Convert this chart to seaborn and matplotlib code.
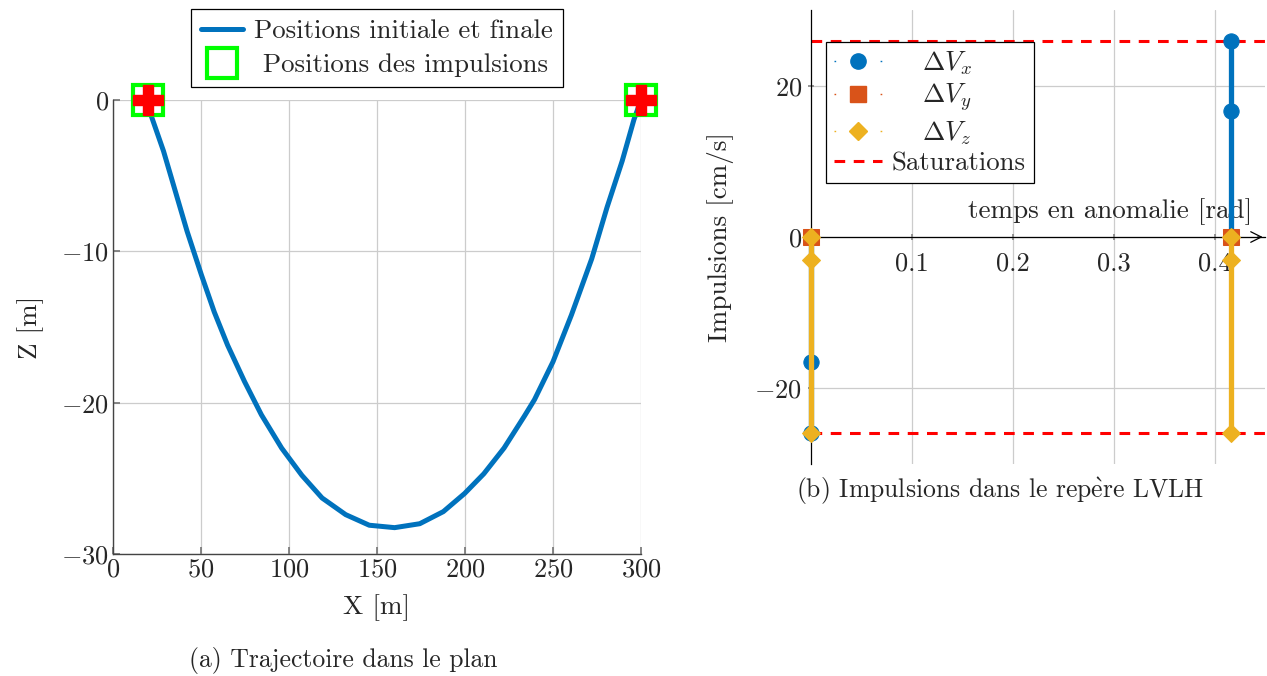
import pandas as pd
import seaborn as sns
import matplotlib
matplotlib.use('Agg')  # no display
import matplotlib.pyplot as plt
from matplotlib.lines import Line2D

# --- data ---
# (a) trajectory in the plane, X and Z in m
traj_x = [20.0, 21.1, 28.7, 35.4, 42.1, 50.2, 57.5, 65.1, 74.7, 84.3, 95.8,
          107.3, 118.8, 132.2, 145.6, 160.0, 174.3, 187.7, 199.8, 210.7, 222.2,
          233.7, 239.5, 250.0, 260.5, 272.0, 280.7, 289.3, 296.0, 300.0]
traj_z = [0.0, -0.84, -3.38, -6.03, -8.68, -11.55, -14.0, -16.2, -18.6, -20.8, -23.0,
          -24.8, -26.3, -27.4, -28.1, -28.26, -28.0, -27.2, -26.0, -24.7, -23.0,
          -20.9, -19.8, -17.3, -14.2, -10.5, -7.1, -4.04, -1.3, 0.0]
impulse_x = [20.0, 300.0]
impulse_z = [0.0, 0.0]

# (b) impulses (cm/s) at each impulse time (rad)
impulse_t = [0.0, 0.416]
dv_x = [[0.0, -16.5, -25.9], [0.0, 16.7, 25.9]]
dv_y = [[0.0], [0.0]]
dv_z = [[0.0, -3.0, -25.9], [0.0, -3.0, -25.9]]
saturation = 25.9

BLUE = '#0072BD'
ORANGE = '#D95319'
YELLOW = '#EDB120'
RED = '#FF0000'
LIME = '#00FF00'

sns.set_theme(style='whitegrid')
plt.rcParams['font.family'] = ['cmr10', 'DejaVu Serif']
plt.rcParams['mathtext.fontset'] = 'cm'
plt.rcParams['axes.formatter.use_mathtext'] = True
plt.rcParams['font.size'] = 19
plt.rcParams['grid.color'] = '#cccccc'
plt.rcParams['grid.linewidth'] = 0.9

fig = plt.figure(figsize=(12.67, 6.76), dpi=100)
ax1 = fig.add_axes([0.0892, 0.1805, 0.4167, 0.6716])
ax2 = fig.add_axes([0.6401, 0.3136, 0.3583, 0.6716])

# ---------------- (a) trajectory ----------------
sns.lineplot(x=traj_x, y=traj_z, sort=False, estimator=None, color=BLUE,
             linewidth=3.6, ax=ax1, zorder=3)
ax1.plot(impulse_x, impulse_z, ls='none', marker='P', ms=21, color=RED,
         mec=RED, clip_on=False, zorder=5)
ax1.plot(impulse_x, impulse_z, ls='none', marker='s', ms=21, mfc='none',
         mec=LIME, mew=3, clip_on=False, zorder=4)

ax1.set_xlim(0, 300)
ax1.set_ylim(-30, 0)
ax1.set_xticks([0, 50, 100, 150, 200, 250, 300])
ax1.set_yticks([-30, -20, -10, 0])
ax1.tick_params(labelsize=19, direction='in', length=5, color='#777777',
                bottom=True, left=True, pad=3)
for side in ['top', 'right']:
    ax1.spines[side].set_visible(False)
for side in ['left', 'bottom']:
    ax1.spines[side].set_color('#444444')
    ax1.spines[side].set_linewidth(1.0)
ax1.set_xlabel('X [m]', fontsize=19.5)
ax1.set_ylabel('Z [m]', fontsize=19.5)
ax1.xaxis.label.set_va('center')
ax1.yaxis.label.set_va('center')
ax1.xaxis.set_label_coords(0.5, -0.119)
ax1.yaxis.set_label_coords(-0.157, 0.5)

handles1 = [Line2D([], [], color=BLUE, lw=3.6),
            Line2D([], [], ls='none', marker='s', ms=21, mfc='none', mec=LIME, mew=3)]
leg1 = ax1.legend(handles1, ['Positions initiale et finale', ' Positions des impulsions'],
                  loc='lower center', bbox_to_anchor=(0.5, 1.028), fontsize=19.3,
                  frameon=True, fancybox=False, edgecolor='black', framealpha=1,
                  borderpad=0.38, labelspacing=0.37, handlelength=1.55,
                  handletextpad=0.4, borderaxespad=0)
leg1.get_frame().set_linewidth(0.9)

# ---------------- (b) impulses ----------------
ax2.axhline(saturation, color=RED, lw=2.2, ls=(0, (3.5, 2.8)), zorder=2)
ax2.axhline(-saturation, color=RED, lw=2.2, ls=(0, (3.5, 2.8)), zorder=2)

series = [(dv_x, BLUE, 'o', 11), (dv_y, ORANGE, 's', 11), (dv_z, YELLOW, 'D', 9)]
for k, (values, color, marker, size) in enumerate(series):
    for t, vals in zip(impulse_t, values):
        seg = pd.DataFrame({'t': [t] * len(vals), 'dv': vals})
        sns.lineplot(data=seg, x='t', y='dv', sort=False, estimator=None,
                     color=color, lw=3.8, marker=marker, ms=size, mec=color,
                     ax=ax2, clip_on=False, zorder=3 + k)

ax2.set_xlim(0, 0.45)
ax2.set_ylim(-30, 30)
ax2.set_xticks([0.1, 0.2, 0.3, 0.4])
ax2.set_xticklabels(['0.1', '0.2', '0.3', '0.4'])
ax2.set_yticks([-20, 0, 20])
ax2.spines['bottom'].set_position(('data', 0))
ax2.spines['bottom'].set_zorder(2.5)
for side in ['top', 'right']:
    ax2.spines[side].set_visible(False)
for side in ['left', 'bottom']:
    ax2.spines[side].set_color('black')
    ax2.spines[side].set_linewidth(0.9)
ax2.tick_params(labelsize=19, direction='inout', length=5, color='#888888',
                bottom=True, left=True)
ax2.tick_params(axis='x', pad=8)
ax2.tick_params(axis='y', pad=4)
ax2.annotate('', xy=(0.4505, 0), xytext=(0.44, 0),
             arrowprops=dict(arrowstyle='->', lw=0.9, color='black'),
             annotation_clip=False)

ax2.set_xlabel('temps en anomalie [rad]', fontsize=19.5)
ax2.xaxis.label.set_ha('right')
ax2.xaxis.label.set_va('center')
ax2.xaxis.set_label_coords(0.971, 0.555)
ax2.set_ylabel('Impulsions [cm/s]', fontsize=19.5)
ax2.yaxis.label.set_va('center')
ax2.yaxis.set_label_coords(-0.200, 0.5)

stub = (0, (1.2, 32))
handles2 = [Line2D([], [], color=BLUE, lw=1, ls=stub, marker='o', ms=11),
            Line2D([], [], color=ORANGE, lw=1, ls=stub, marker='s', ms=11),
            Line2D([], [], color=YELLOW, lw=1, ls=stub, marker='D', ms=9),
            Line2D([], [], color=RED, lw=2.2, ls=(0, (3.5, 2.8)))]
labels2 = [r'$\quad\;\Delta V_x$', r'$\quad\;\Delta V_y$', r'$\quad\;\Delta V_z$', 'Saturations']
leg2 = ax2.legend(handles2, labels2, loc='upper left', bbox_to_anchor=(0.033, 0.93),
                  fontsize=19.3, frameon=True, fancybox=False, edgecolor='black',
                  framealpha=1, borderpad=0.3, labelspacing=0.18, handlelength=1.8,
                  handletextpad=0.35, borderaxespad=0)
leg2.get_frame().set_linewidth(0.9)
leg2.set_zorder(10)

# captions
fig.text(343 / 1267, 1 - 660 / 676, '(a) Trajectoire dans le plan',
         ha='center', va='center', fontsize=18.5)
fig.text(1000 / 1267, 1 - 491 / 676, r'(b) Impulsions dans le rep$\grave{\mathrm{e}}$re LVLH',
         ha='center', va='center', fontsize=18.5)

fig.savefig('out.png', dpi=100)
